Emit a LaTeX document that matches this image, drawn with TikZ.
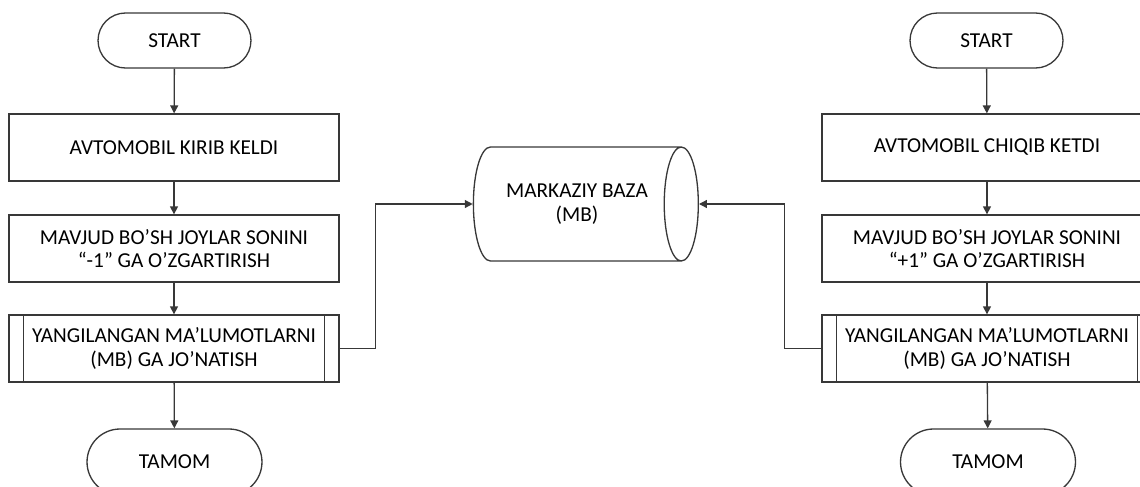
\documentclass[tikz,border=0pt]{standalone}
\usepackage{fontspec}
\setmainfont{Carlito}
\usetikzlibrary{arrows.meta,positioning,shapes.geometric}
\definecolor{lineclr}{HTML}{383838}

\begin{document}
\begin{tikzpicture}[
    x=0.02cm, y=-0.02cm,
    >={Triangle[length=4.5pt,width=4.5pt]},
    line width=0.75pt,
    every node/.style={font=\fontsize{12.1}{13.4}\selectfont, align=center, text=black},
    term/.style={draw=lineclr, rectangle, rounded corners=0.55cm, minimum width=3.06cm, minimum height=1.1cm, inner sep=0pt},
    endterm/.style={term, rounded corners=0.66cm, minimum width=3.5cm, minimum height=1.32cm},
    proc/.style={draw=lineclr, rectangle, minimum width=6.6cm, minimum height=1.34cm, inner sep=0pt},
    base/.style={draw=lineclr, cylinder, aspect=0.85, minimum width=2.28cm, minimum height=4.5cm, inner sep=0pt},
    link/.style={draw=lineclr, ->}
]
    \clip (0,0) rectangle (1140,487);

    % left column
    \node[term] (ls) at (174.5,40.5) {START};
    \node[proc] (l1) at (174,147.5) {AVTOMOBIL KIRIB KELDI};
    \node[proc] (l2) at (174,248.5) {MAVJUD BO’SH JOYLAR SONINI\\“-1” GA O’ZGARTIRISH};
    \node[proc] (l3) at (174,348.5) {YANGILANGAN MA’LUMOTLARNI\\(MB) GA JO’NATISH};
    \node[endterm] (lt) at (174.5,462) {TAMOM};

    % right column
    \node[term] (rs) at (986.5,40.5) {START};
    \node[proc] (r1) at (987,147.5) {AVTOMOBIL CHIQIB KETDI};
    \node[proc] (r2) at (987,248.5) {MAVJUD BO’SH JOYLAR SONINI\\“+1” GA O’ZGARTIRISH};
    \node[proc] (r3) at (987,348.5) {YANGILANGAN MA’LUMOTLARNI\\(MB) GA JO’NATISH};
    \node[endterm] (rt) at (988,462) {TAMOM};

    % database
    \node[base] (db) at (577,204) {MARKAZIY BAZA\\(MB)};

    % subprocess bars
    \foreach \n in {l3,r3} {
        \draw[lineclr] ([xshift=0.3cm]\n.north west) -- ([xshift=0.3cm]\n.south west);
        \draw[lineclr] ([xshift=-0.3cm]\n.north east) -- ([xshift=-0.3cm]\n.south east);
    }

    \draw[link] (ls) -- (l1);
    \draw[link] (l1) -- (l2);
    \draw[link] (l2) -- (l3);
    \draw[link] (l3) -- (lt);
    \draw[link] (rs) -- (r1);
    \draw[link] (r1) -- (r2);
    \draw[link] (r2) -- (r3);
    \draw[link] (r3) -- (rt);

    \draw[link] (l3.east) -- ++(36,0) |- (db.west);
    \draw[link] (r3.west) -- ++(-37,0) |- (db.east);
\end{tikzpicture}
\end{document}
